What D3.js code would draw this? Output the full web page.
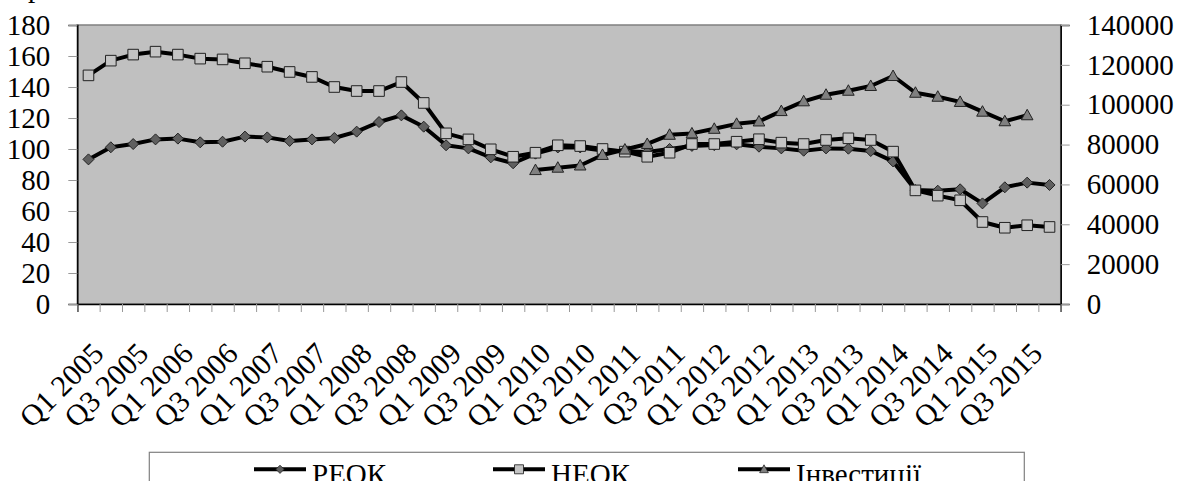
<!DOCTYPE html>
<html><head><meta charset="utf-8">
<script src="https://cdnjs.cloudflare.com/ajax/libs/d3/7.8.5/d3.min.js"></script>
<style>
html,body{margin:0;padding:0;background:#fff;}
svg{display:block;}
text{font-family:"Liberation Serif","Times New Roman",serif;fill:#000;}
</style></head>
<body>
<script>
const quarters = [];
["2005","2006","2007","2008","2009","2010","2011","2012","2013","2014","2015"].forEach(y=>{
  ["Q1","Q2","Q3","Q4"].forEach(q=>quarters.push(q+" "+y));
});
const reok = [93.3,101.1,103.2,106.2,106.7,104.3,104.7,108.0,107.5,105.2,106.2,107.1,111.2,117.4,121.7,114.4,102.4,100.4,94.6,90.8,97.0,101.0,101.0,99.0,98.5,98.0,100.0,102.0,102.5,103.0,101.5,100.4,98.9,100.4,100.2,98.7,92.0,73.5,73.1,74.0,64.9,75.3,78.3,76.8];
const neok = [147.5,157.0,160.9,162.8,160.9,158.3,157.8,155.3,153.1,149.7,146.5,140.0,137.4,137.4,143.2,129.7,110.1,106.2,99.8,95.0,97.6,102.4,101.9,100.0,98.3,95.0,97.6,103.2,103.2,104.7,106.3,104.1,103.2,105.8,106.9,105.8,98.3,73.3,69.9,66.9,52.9,49.2,50.8,49.7];
const invest = [null,null,null,null,null,null,null,null,null,null,null,null,null,null,null,null,null,null,null,null,67200,68400,69500,74800,77500,80300,84900,85600,87900,90400,91600,96800,101700,105000,107000,109400,114400,106000,104000,101400,96500,91700,94700,null];
const leftTicks = [0,20,40,60,80,100,120,140,160,180];
const rightTicks = [0,20000,40000,60000,80000,100000,120000,140000];
const xTickLabels = quarters.filter((q,i)=>i%2===0);
const legendNames = ["РЕОК","НЕОК","Інвестиції"];

const W=1187,H=481;
const L=77.3,R=1060.7,T=25,B=304;
const FS=29, FSX=30;

const svg=d3.select("body").append("svg").attr("width",W).attr("height",H);

const x=d3.scaleBand().domain(quarters).range([L,R]).padding(0);
const xb=d3.scaleLinear().domain([0,quarters.length]).range([L,R]);
const yL=d3.scaleLinear().domain([0,180]).range([B,T]);
const yR=d3.scaleLinear().domain([0,140000]).range([B,T]);
const cx=q=>x(q)+x.bandwidth()/2;

// partial text at top-left (cut off)
svg.append("text").attr("x",28).attr("y",-3.5).attr("font-size",FS).text("р");

// plot area
svg.append("rect").attr("x",L).attr("y",T).attr("width",R-L).attr("height",B-T)
  .attr("fill","#c0c0c0").attr("stroke","#808080").attr("stroke-width",1.5);

// left axis
const gl=svg.append("g").attr("transform",`translate(${L},0)`)
  .call(d3.axisLeft(yL).tickValues(leftTicks).tickSize(9).tickPadding(18).tickFormat(d3.format("d")));
gl.select(".domain").attr("stroke","#000").attr("stroke-width",1.5);
gl.selectAll(".tick line").attr("stroke","#999");
gl.selectAll(".tick text").attr("font-size",FS).attr("font-family",'"Liberation Serif",serif').attr("fill","#000");

// right axis
const gr=svg.append("g").attr("transform",`translate(${R},0)`)
  .call(d3.axisRight(yR).tickValues(rightTicks).tickSize(9).tickPadding(17).tickFormat(d3.format("d")));
gr.select(".domain").attr("stroke","#000").attr("stroke-width",1.5);
gr.selectAll(".tick line").attr("stroke","#999");
gr.selectAll(".tick text").attr("font-size",FS).attr("font-family",'"Liberation Serif",serif').attr("fill","#000");

// bottom axis ticks
const gb=svg.append("g").attr("transform",`translate(0,${B})`)
  .call(d3.axisBottom(xb).tickValues(d3.range(quarters.length+1)).tickSize(8).tickFormat(""));
gb.select(".domain").attr("stroke","#000").attr("stroke-width",1.5);
gb.selectAll(".tick line").attr("stroke","#999");

// x labels
svg.append("g").selectAll("text").data(xTickLabels).join("text")
  .attr("font-size",FSX).attr("text-anchor","end")
  .attr("transform",d=>`translate(${cx(d)+17},355.5) rotate(-45)`)
  .text(d=>d);

// lines
function series(vals,yScale,shape,fill,stroke){
  const pts=quarters.map((q,i)=>({q,v:vals[i]}));
  const line=d3.line().defined(d=>d.v!=null).x(d=>cx(d.q)).y(d=>yScale(d.v));
  svg.append("path").attr("d",line(pts)).attr("fill","none").attr("stroke","#000")
    .attr("stroke-width",4).attr("stroke-linejoin","round");
  svg.append("g").selectAll("path").data(pts.filter(d=>d.v!=null)).join("path")
    .attr("d",shape).attr("transform",d=>`translate(${cx(d.q)},${yScale(d.v)})`)
    .attr("fill",fill).attr("stroke",stroke).attr("stroke-width",1);
}
const diamond="M0,-5.5L5.5,0L0,5.5L-5.5,0Z";
const square="M-5.3,-5.3H5.3V5.3H-5.3Z";
const tri="M0,-6L5.8,4.5H-5.8Z";
series(reok,yL,diamond,"#5f5f5f","#222");
series(neok,yL,square,"#c4c4c4","#222");
series(invest,yR,tri,"#808080","#222");

// legend
svg.append("rect").attr("x",149.3).attr("y",452.3).attr("width",875).attr("height",60)
  .attr("fill","#fff").attr("stroke","#808080").attr("stroke-width",1.2);
const legX=[254,493,738];
const legShapes=[[diamond,"#5f5f5f",0.75],[square,"#c4c4c4",0.85],[tri,"#808080",0.75]];
legendNames.forEach((n,i)=>{
  const g=svg.append("g").attr("transform",`translate(${legX[i]},469.3)`);
  g.append("line").attr("x1",0).attr("x2",52).attr("y1",0).attr("y2",0).attr("stroke","#000").attr("stroke-width",4);
  g.append("path").attr("d",legShapes[i][0]).attr("transform",`translate(26,0) scale(${legShapes[i][2]})`)
    .attr("fill",legShapes[i][1]).attr("stroke","#222").attr("stroke-width",1);
  g.append("text").attr("x",58).attr("y",15).attr("font-size",FS).text(n);
});
</script>
</body></html>
